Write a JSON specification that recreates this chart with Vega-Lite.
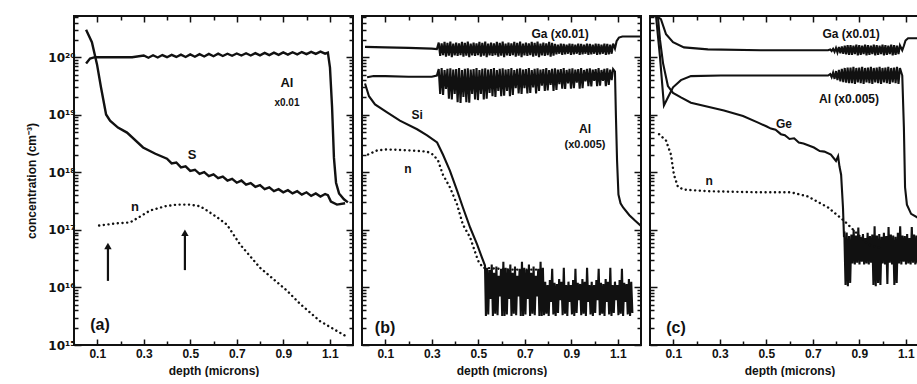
{
"$schema": "https://vega.github.io/schema/vega-lite/v6.json",
"background": "white",
"padding": {"left": 24, "top": 9, "right": 0, "bottom": 0},
"spacing": 5,
"config": {
  "view": {"stroke": "#111", "strokeWidth": 2},
  "axis": {"grid": false, "domain": false, "tickColor": "#111", "tickWidth": 1.5, "labelColor": "#111", "titleColor": "#111",
           "labelFont": "Liberation Sans", "titleFont": "Liberation Sans", "labelFontWeight": "bold", "titleFontWeight": "bold",
           "labelFontSize": 12, "titleFontSize": 12, "labelOverlap": false, "labelFlush": false},
  "text": {"font": "Liberation Sans", "fontWeight": "bold", "color": "#111"}
},
"datasets": {
  "curves": [
    {"p":"a","s":"Al","d":0.052,"v":7.8e19},{"p":"a","s":"Al","d":0.069,"v":9.5e19},{"p":"a","s":"Al","d":0.09,"v":1.0e20},{"p":"a","s":"Al","d":0.15,"v":1.0e20},{"p":"a","s":"Al","d":0.25,"v":1.0e20},
    {"p":"a","s":"Al","d":0.30,"v":1.07e20},{"p":"a","s":"Al","d":0.32,"v":9.8e19},{"p":"a","s":"Al","d":0.34,"v":1.08e20},{"p":"a","s":"Al","d":0.36,"v":9.9e19},{"p":"a","s":"Al","d":0.38,"v":1.09e20},{"p":"a","s":"Al","d":0.40,"v":1.0e20},{"p":"a","s":"Al","d":0.42,"v":1.10e20},{"p":"a","s":"Al","d":0.44,"v":1.01e20},{"p":"a","s":"Al","d":0.46,"v":1.11e20},{"p":"a","s":"Al","d":0.48,"v":1.01e20},
    {"p":"a","s":"Al","d":0.50,"v":1.12e20},{"p":"a","s":"Al","d":0.52,"v":1.02e20},{"p":"a","s":"Al","d":0.54,"v":1.13e20},{"p":"a","s":"Al","d":0.56,"v":1.03e20},{"p":"a","s":"Al","d":0.58,"v":1.14e20},{"p":"a","s":"Al","d":0.60,"v":1.04e20},{"p":"a","s":"Al","d":0.62,"v":1.15e20},{"p":"a","s":"Al","d":0.64,"v":1.05e20},{"p":"a","s":"Al","d":0.66,"v":1.15e20},{"p":"a","s":"Al","d":0.68,"v":1.06e20},
    {"p":"a","s":"Al","d":0.70,"v":1.16e20},{"p":"a","s":"Al","d":0.72,"v":1.07e20},{"p":"a","s":"Al","d":0.74,"v":1.17e20},{"p":"a","s":"Al","d":0.76,"v":1.07e20},{"p":"a","s":"Al","d":0.78,"v":1.18e20},{"p":"a","s":"Al","d":0.80,"v":1.08e20},{"p":"a","s":"Al","d":0.82,"v":1.19e20},{"p":"a","s":"Al","d":0.84,"v":1.09e20},{"p":"a","s":"Al","d":0.86,"v":1.20e20},{"p":"a","s":"Al","d":0.88,"v":1.10e20},
    {"p":"a","s":"Al","d":0.90,"v":1.21e20},{"p":"a","s":"Al","d":0.92,"v":1.11e20},{"p":"a","s":"Al","d":0.94,"v":1.22e20},{"p":"a","s":"Al","d":0.96,"v":1.12e20},{"p":"a","s":"Al","d":0.98,"v":1.23e20},{"p":"a","s":"Al","d":1.00,"v":1.13e20},{"p":"a","s":"Al","d":1.02,"v":1.24e20},{"p":"a","s":"Al","d":1.04,"v":1.14e20},{"p":"a","s":"Al","d":1.06,"v":1.25e20},{"p":"a","s":"Al","d":1.08,"v":1.15e20},
    {"p":"a","s":"Al","d":1.092,"v":1.2e20},{"p":"a","s":"Al","d":1.101,"v":6.6e19},{"p":"a","s":"Al","d":1.11,"v":1.35e19},{"p":"a","s":"Al","d":1.118,"v":1.8e18},{"p":"a","s":"Al","d":1.127,"v":6.6e17},{"p":"a","s":"Al","d":1.14,"v":4.3e17},{"p":"a","s":"Al","d":1.161,"v":3.4e17},{"p":"a","s":"Al","d":1.178,"v":3.0e17},

    {"p":"a","s":"S","d":0.052,"v":3.0e20},{"p":"a","s":"S","d":0.077,"v":1.82e20},{"p":"a","s":"S","d":0.099,"v":7.5e19},{"p":"a","s":"S","d":0.116,"v":3.0e19},{"p":"a","s":"S","d":0.138,"v":1.01e19},{"p":"a","s":"S","d":0.155,"v":7.9e18},{"p":"a","s":"S","d":0.189,"v":6.0e18},{"p":"a","s":"S","d":0.228,"v":4.9e18},{"p":"a","s":"S","d":0.297,"v":2.7e18},{"p":"a","s":"S","d":0.35,"v":2.1e18},
    {"p":"a","s":"S","d":0.40,"v":1.72e18},{"p":"a","s":"S","d":0.42,"v":1.43e18},{"p":"a","s":"S","d":0.44,"v":1.48e18},{"p":"a","s":"S","d":0.46,"v":1.22e18},{"p":"a","s":"S","d":0.48,"v":1.27e18},{"p":"a","s":"S","d":0.50,"v":1.06e18},{"p":"a","s":"S","d":0.52,"v":1.11e18},{"p":"a","s":"S","d":0.54,"v":9.4e17},{"p":"a","s":"S","d":0.56,"v":1.01e18},{"p":"a","s":"S","d":0.58,"v":8.6e17},
    {"p":"a","s":"S","d":0.60,"v":9.2e17},{"p":"a","s":"S","d":0.62,"v":7.9e17},{"p":"a","s":"S","d":0.64,"v":8.4e17},{"p":"a","s":"S","d":0.66,"v":7.2e17},{"p":"a","s":"S","d":0.68,"v":7.7e17},{"p":"a","s":"S","d":0.70,"v":6.6e17},{"p":"a","s":"S","d":0.72,"v":7.2e17},{"p":"a","s":"S","d":0.74,"v":6.1e17},{"p":"a","s":"S","d":0.76,"v":6.5e17},{"p":"a","s":"S","d":0.78,"v":5.6e17},
    {"p":"a","s":"S","d":0.80,"v":6.0e17},{"p":"a","s":"S","d":0.82,"v":5.1e17},{"p":"a","s":"S","d":0.84,"v":5.5e17},{"p":"a","s":"S","d":0.86,"v":4.7e17},{"p":"a","s":"S","d":0.88,"v":5.1e17},{"p":"a","s":"S","d":0.90,"v":4.5e17},{"p":"a","s":"S","d":0.92,"v":4.9e17},{"p":"a","s":"S","d":0.94,"v":4.3e17},{"p":"a","s":"S","d":0.96,"v":4.7e17},{"p":"a","s":"S","d":0.98,"v":4.1e17},
    {"p":"a","s":"S","d":1.00,"v":4.5e17},{"p":"a","s":"S","d":1.02,"v":3.9e17},{"p":"a","s":"S","d":1.04,"v":4.3e17},{"p":"a","s":"S","d":1.06,"v":3.8e17},{"p":"a","s":"S","d":1.08,"v":4.2e17},{"p":"a","s":"S","d":1.092,"v":4.0e17},{"p":"a","s":"S","d":1.105,"v":3.1e17},{"p":"a","s":"S","d":1.131,"v":2.75e17},{"p":"a","s":"S","d":1.166,"v":2.9e17},

    {"p":"a","s":"n","d":0.108,"v":1.19e17},{"p":"a","s":"n","d":0.176,"v":1.29e17},{"p":"a","s":"n","d":0.241,"v":1.35e17},{"p":"a","s":"n","d":0.284,"v":1.7e17},{"p":"a","s":"n","d":0.327,"v":2.17e17},{"p":"a","s":"n","d":0.391,"v":2.57e17},{"p":"a","s":"n","d":0.443,"v":2.75e17},{"p":"a","s":"n","d":0.499,"v":2.75e17},{"p":"a","s":"n","d":0.542,"v":2.57e17},
    {"p":"a","s":"n","d":0.572,"v":2.17e17},{"p":"a","s":"n","d":0.619,"v":1.62e17},{"p":"a","s":"n","d":0.658,"v":1.23e17},{"p":"a","s":"n","d":0.714,"v":5.6e16},{"p":"a","s":"n","d":0.80,"v":2.2e16},{"p":"a","s":"n","d":0.916,"v":8.8e15},{"p":"a","s":"n","d":0.972,"v":5.2e15},{"p":"a","s":"n","d":1.058,"v":2.6e15},{"p":"a","s":"n","d":1.166,"v":1.45e15},

    {"p":"b","s":"Ga","d":0.013,"v":1.51e20},{"p":"b","s":"Ga","d":0.10,"v":1.48e20},{"p":"b","s":"Ga","d":0.20,"v":1.45e20},{"p":"b","s":"Ga","d":0.30,"v":1.41e20},{"p":"b","s":"Ga","d":0.322,"v":1.38e20},
    {"p":"b","s":"Ga","d":0.33,"v":1.80e20},{"p":"b","s":"Ga","d":0.33625,"v":1.05e20},{"p":"b","s":"Ga","d":0.3425,"v":1.74e20},{"p":"b","s":"Ga","d":0.34875,"v":1.09e20},{"p":"b","s":"Ga","d":0.355,"v":1.84e20},{"p":"b","s":"Ga","d":0.36125,"v":1.02e20},{"p":"b","s":"Ga","d":0.3675,"v":1.77e20},{"p":"b","s":"Ga","d":0.37375,"v":1.07e20},{"p":"b","s":"Ga","d":0.38,"v":1.86e20},{"p":"b","s":"Ga","d":0.38625,"v":1.0e20},{"p":"b","s":"Ga","d":0.3925,"v":1.72e20},{"p":"b","s":"Ga","d":0.39875,"v":1.08e20},
    {"p":"b","s":"Ga","d":0.405,"v":1.80e20},{"p":"b","s":"Ga","d":0.41125,"v":1.05e20},{"p":"b","s":"Ga","d":0.4175,"v":1.74e20},{"p":"b","s":"Ga","d":0.42375,"v":1.09e20},{"p":"b","s":"Ga","d":0.43,"v":1.84e20},{"p":"b","s":"Ga","d":0.43625,"v":1.02e20},{"p":"b","s":"Ga","d":0.4425,"v":1.77e20},{"p":"b","s":"Ga","d":0.44875,"v":1.07e20},{"p":"b","s":"Ga","d":0.455,"v":1.86e20},{"p":"b","s":"Ga","d":0.46125,"v":1.0e20},{"p":"b","s":"Ga","d":0.4675,"v":1.72e20},{"p":"b","s":"Ga","d":0.47375,"v":1.08e20},
    {"p":"b","s":"Ga","d":0.48,"v":1.80e20},{"p":"b","s":"Ga","d":0.48625,"v":1.05e20},{"p":"b","s":"Ga","d":0.4925,"v":1.74e20},{"p":"b","s":"Ga","d":0.49875,"v":1.09e20},{"p":"b","s":"Ga","d":0.505,"v":1.84e20},{"p":"b","s":"Ga","d":0.51125,"v":1.02e20},{"p":"b","s":"Ga","d":0.5175,"v":1.77e20},{"p":"b","s":"Ga","d":0.52375,"v":1.07e20},{"p":"b","s":"Ga","d":0.53,"v":1.86e20},{"p":"b","s":"Ga","d":0.53625,"v":1.0e20},{"p":"b","s":"Ga","d":0.5425,"v":1.72e20},{"p":"b","s":"Ga","d":0.54875,"v":1.08e20},
    {"p":"b","s":"Ga","d":0.555,"v":1.80e20},{"p":"b","s":"Ga","d":0.56125,"v":1.05e20},{"p":"b","s":"Ga","d":0.5675,"v":1.74e20},{"p":"b","s":"Ga","d":0.57375,"v":1.09e20},{"p":"b","s":"Ga","d":0.58,"v":1.84e20},{"p":"b","s":"Ga","d":0.58625,"v":1.02e20},{"p":"b","s":"Ga","d":0.5925,"v":1.77e20},{"p":"b","s":"Ga","d":0.59875,"v":1.07e20},{"p":"b","s":"Ga","d":0.605,"v":1.86e20},{"p":"b","s":"Ga","d":0.61125,"v":1.0e20},{"p":"b","s":"Ga","d":0.6175,"v":1.72e20},{"p":"b","s":"Ga","d":0.62375,"v":1.08e20},
    {"p":"b","s":"Ga","d":0.63,"v":1.80e20},{"p":"b","s":"Ga","d":0.63625,"v":1.05e20},{"p":"b","s":"Ga","d":0.6425,"v":1.74e20},{"p":"b","s":"Ga","d":0.64875,"v":1.09e20},{"p":"b","s":"Ga","d":0.655,"v":1.84e20},{"p":"b","s":"Ga","d":0.66125,"v":1.02e20},{"p":"b","s":"Ga","d":0.6675,"v":1.77e20},{"p":"b","s":"Ga","d":0.67375,"v":1.07e20},{"p":"b","s":"Ga","d":0.68,"v":1.86e20},{"p":"b","s":"Ga","d":0.68625,"v":1.0e20},{"p":"b","s":"Ga","d":0.6925,"v":1.72e20},{"p":"b","s":"Ga","d":0.69875,"v":1.08e20},
    {"p":"b","s":"Ga","d":0.705,"v":1.80e20},{"p":"b","s":"Ga","d":0.71125,"v":1.05e20},{"p":"b","s":"Ga","d":0.7175,"v":1.74e20},{"p":"b","s":"Ga","d":0.72375,"v":1.09e20},{"p":"b","s":"Ga","d":0.73,"v":1.84e20},{"p":"b","s":"Ga","d":0.73625,"v":1.02e20},{"p":"b","s":"Ga","d":0.7425,"v":1.77e20},{"p":"b","s":"Ga","d":0.74875,"v":1.07e20},{"p":"b","s":"Ga","d":0.755,"v":1.86e20},{"p":"b","s":"Ga","d":0.76125,"v":1.0e20},{"p":"b","s":"Ga","d":0.7675,"v":1.72e20},{"p":"b","s":"Ga","d":0.77375,"v":1.08e20},
    {"p":"b","s":"Ga","d":0.78,"v":1.80e20},{"p":"b","s":"Ga","d":0.78625,"v":1.05e20},{"p":"b","s":"Ga","d":0.7925,"v":1.74e20},{"p":"b","s":"Ga","d":0.79875,"v":1.09e20},{"p":"b","s":"Ga","d":0.805,"v":1.84e20},{"p":"b","s":"Ga","d":0.81125,"v":1.02e20},{"p":"b","s":"Ga","d":0.8175,"v":1.77e20},{"p":"b","s":"Ga","d":0.82375,"v":1.07e20},
    {"p":"b","s":"Ga","d":0.83,"v":1.70e20},{"p":"b","s":"Ga","d":0.83625,"v":1.12e20},{"p":"b","s":"Ga","d":0.8425,"v":1.66e20},{"p":"b","s":"Ga","d":0.84875,"v":1.15e20},{"p":"b","s":"Ga","d":0.855,"v":1.72e20},{"p":"b","s":"Ga","d":0.86125,"v":1.10e20},{"p":"b","s":"Ga","d":0.8675,"v":1.70e20},{"p":"b","s":"Ga","d":0.87375,"v":1.12e20},{"p":"b","s":"Ga","d":0.88,"v":1.66e20},{"p":"b","s":"Ga","d":0.88625,"v":1.15e20},{"p":"b","s":"Ga","d":0.8925,"v":1.72e20},{"p":"b","s":"Ga","d":0.89875,"v":1.10e20},
    {"p":"b","s":"Ga","d":0.905,"v":1.70e20},{"p":"b","s":"Ga","d":0.91125,"v":1.12e20},{"p":"b","s":"Ga","d":0.9175,"v":1.66e20},{"p":"b","s":"Ga","d":0.92375,"v":1.15e20},{"p":"b","s":"Ga","d":0.93,"v":1.72e20},{"p":"b","s":"Ga","d":0.93625,"v":1.10e20},{"p":"b","s":"Ga","d":0.9425,"v":1.70e20},{"p":"b","s":"Ga","d":0.94875,"v":1.12e20},{"p":"b","s":"Ga","d":0.955,"v":1.66e20},{"p":"b","s":"Ga","d":0.96125,"v":1.15e20},{"p":"b","s":"Ga","d":0.9675,"v":1.72e20},{"p":"b","s":"Ga","d":0.97375,"v":1.10e20},
    {"p":"b","s":"Ga","d":0.98,"v":1.70e20},{"p":"b","s":"Ga","d":0.98625,"v":1.12e20},{"p":"b","s":"Ga","d":0.9925,"v":1.66e20},{"p":"b","s":"Ga","d":0.99875,"v":1.15e20},{"p":"b","s":"Ga","d":1.005,"v":1.72e20},{"p":"b","s":"Ga","d":1.01125,"v":1.10e20},{"p":"b","s":"Ga","d":1.0175,"v":1.70e20},{"p":"b","s":"Ga","d":1.02375,"v":1.12e20},{"p":"b","s":"Ga","d":1.03,"v":1.66e20},{"p":"b","s":"Ga","d":1.03625,"v":1.15e20},{"p":"b","s":"Ga","d":1.0425,"v":1.72e20},{"p":"b","s":"Ga","d":1.04875,"v":1.10e20},
    {"p":"b","s":"Ga","d":1.055,"v":1.70e20},{"p":"b","s":"Ga","d":1.06125,"v":1.12e20},{"p":"b","s":"Ga","d":1.0675,"v":1.66e20},{"p":"b","s":"Ga","d":1.07375,"v":1.15e20},{"p":"b","s":"Ga","d":1.08,"v":1.72e20},
    {"p":"b","s":"Ga","d":1.088,"v":1.41e20},{"p":"b","s":"Ga","d":1.095,"v":1.9e20},{"p":"b","s":"Ga","d":1.105,"v":2.19e20},{"p":"b","s":"Ga","d":1.12,"v":2.29e20},{"p":"b","s":"Ga","d":1.2,"v":2.29e20},

    {"p":"b","s":"Al","d":0.022,"v":4.47e19},{"p":"b","s":"Al","d":0.05,"v":4.7e19},{"p":"b","s":"Al","d":0.10,"v":4.7e19},{"p":"b","s":"Al","d":0.20,"v":4.57e19},{"p":"b","s":"Al","d":0.30,"v":4.57e19},{"p":"b","s":"Al","d":0.322,"v":4.8e19},
    {"p":"b","s":"Al","d":0.33,"v":6.2e19},{"p":"b","s":"Al","d":0.33625,"v":2.3e19},{"p":"b","s":"Al","d":0.3425,"v":6.5e19},{"p":"b","s":"Al","d":0.34875,"v":2.2e19},{"p":"b","s":"Al","d":0.355,"v":6.0e19},{"p":"b","s":"Al","d":0.36125,"v":2.8e19},{"p":"b","s":"Al","d":0.3675,"v":6.3e19},{"p":"b","s":"Al","d":0.37375,"v":1.9e19},{"p":"b","s":"Al","d":0.38,"v":6.4e19},{"p":"b","s":"Al","d":0.38625,"v":1.85e19},{"p":"b","s":"Al","d":0.3925,"v":6.1e19},{"p":"b","s":"Al","d":0.39875,"v":2.3e19},
    {"p":"b","s":"Al","d":0.405,"v":6.2e19},{"p":"b","s":"Al","d":0.41125,"v":1.65e19},{"p":"b","s":"Al","d":0.4175,"v":6.5e19},{"p":"b","s":"Al","d":0.42375,"v":1.6e19},{"p":"b","s":"Al","d":0.43,"v":6.0e19},{"p":"b","s":"Al","d":0.43625,"v":2.05e19},{"p":"b","s":"Al","d":0.4425,"v":6.3e19},{"p":"b","s":"Al","d":0.44875,"v":1.65e19},{"p":"b","s":"Al","d":0.455,"v":6.4e19},{"p":"b","s":"Al","d":0.46125,"v":1.62e19},{"p":"b","s":"Al","d":0.4675,"v":6.1e19},{"p":"b","s":"Al","d":0.47375,"v":2.3e19},
    {"p":"b","s":"Al","d":0.48,"v":6.2e19},{"p":"b","s":"Al","d":0.48625,"v":1.85e19},{"p":"b","s":"Al","d":0.4925,"v":6.5e19},{"p":"b","s":"Al","d":0.49875,"v":1.8e19},{"p":"b","s":"Al","d":0.505,"v":6.0e19},{"p":"b","s":"Al","d":0.51125,"v":2.3e19},{"p":"b","s":"Al","d":0.5175,"v":6.3e19},{"p":"b","s":"Al","d":0.52375,"v":1.85e19},{"p":"b","s":"Al","d":0.53,"v":6.4e19},{"p":"b","s":"Al","d":0.53625,"v":1.9e19},{"p":"b","s":"Al","d":0.5425,"v":6.1e19},{"p":"b","s":"Al","d":0.54875,"v":2.4e19},
    {"p":"b","s":"Al","d":0.555,"v":6.2e19},{"p":"b","s":"Al","d":0.56125,"v":2.1e19},{"p":"b","s":"Al","d":0.5675,"v":6.5e19},{"p":"b","s":"Al","d":0.57375,"v":2.05e19},{"p":"b","s":"Al","d":0.58,"v":6.0e19},{"p":"b","s":"Al","d":0.58625,"v":2.6e19},{"p":"b","s":"Al","d":0.5925,"v":6.3e19},{"p":"b","s":"Al","d":0.59875,"v":2.1e19},{"p":"b","s":"Al","d":0.605,"v":6.4e19},{"p":"b","s":"Al","d":0.61125,"v":2.15e19},{"p":"b","s":"Al","d":0.6175,"v":6.1e19},{"p":"b","s":"Al","d":0.62375,"v":2.6e19},
    {"p":"b","s":"Al","d":0.63,"v":6.2e19},{"p":"b","s":"Al","d":0.63625,"v":2.1e19},{"p":"b","s":"Al","d":0.6425,"v":6.5e19},{"p":"b","s":"Al","d":0.64875,"v":2.2e19},{"p":"b","s":"Al","d":0.655,"v":6.0e19},{"p":"b","s":"Al","d":0.66125,"v":2.9e19},{"p":"b","s":"Al","d":0.6675,"v":6.3e19},{"p":"b","s":"Al","d":0.67375,"v":2.35e19},{"p":"b","s":"Al","d":0.68,"v":6.4e19},{"p":"b","s":"Al","d":0.68625,"v":2.3e19},{"p":"b","s":"Al","d":0.6925,"v":6.1e19},{"p":"b","s":"Al","d":0.69875,"v":2.9e19},
    {"p":"b","s":"Al","d":0.705,"v":6.2e19},{"p":"b","s":"Al","d":0.71125,"v":2.35e19},{"p":"b","s":"Al","d":0.7175,"v":6.5e19},{"p":"b","s":"Al","d":0.72375,"v":2.4e19},{"p":"b","s":"Al","d":0.73,"v":6.0e19},{"p":"b","s":"Al","d":0.73625,"v":3.0e19},{"p":"b","s":"Al","d":0.7425,"v":6.3e19},{"p":"b","s":"Al","d":0.74875,"v":2.35e19},{"p":"b","s":"Al","d":0.755,"v":6.4e19},{"p":"b","s":"Al","d":0.76125,"v":2.6e19},{"p":"b","s":"Al","d":0.7675,"v":6.1e19},{"p":"b","s":"Al","d":0.77375,"v":3.2e19},
    {"p":"b","s":"Al","d":0.78,"v":6.2e19},{"p":"b","s":"Al","d":0.78625,"v":2.6e19},{"p":"b","s":"Al","d":0.7925,"v":6.5e19},{"p":"b","s":"Al","d":0.79875,"v":2.65e19},{"p":"b","s":"Al","d":0.805,"v":6.0e19},{"p":"b","s":"Al","d":0.81125,"v":3.3e19},{"p":"b","s":"Al","d":0.8175,"v":6.3e19},{"p":"b","s":"Al","d":0.82375,"v":2.6e19},{"p":"b","s":"Al","d":0.83,"v":6.4e19},{"p":"b","s":"Al","d":0.83625,"v":2.7e19},{"p":"b","s":"Al","d":0.8425,"v":6.1e19},{"p":"b","s":"Al","d":0.84875,"v":3.4e19},
    {"p":"b","s":"Al","d":0.855,"v":6.2e19},{"p":"b","s":"Al","d":0.86125,"v":2.85e19},{"p":"b","s":"Al","d":0.8675,"v":6.5e19},{"p":"b","s":"Al","d":0.87375,"v":2.8e19},{"p":"b","s":"Al","d":0.88,"v":6.0e19},{"p":"b","s":"Al","d":0.88625,"v":3.5e19},{"p":"b","s":"Al","d":0.8925,"v":6.3e19},{"p":"b","s":"Al","d":0.89875,"v":2.85e19},{"p":"b","s":"Al","d":0.905,"v":6.4e19},{"p":"b","s":"Al","d":0.91125,"v":2.9e19},{"p":"b","s":"Al","d":0.9175,"v":6.1e19},{"p":"b","s":"Al","d":0.92375,"v":3.6e19},
    {"p":"b","s":"Al","d":0.93,"v":6.2e19},{"p":"b","s":"Al","d":0.93625,"v":2.85e19},{"p":"b","s":"Al","d":0.9425,"v":6.5e19},{"p":"b","s":"Al","d":0.94875,"v":2.9e19},{"p":"b","s":"Al","d":0.955,"v":6.0e19},{"p":"b","s":"Al","d":0.96125,"v":3.8e19},{"p":"b","s":"Al","d":0.9675,"v":6.3e19},{"p":"b","s":"Al","d":0.97375,"v":3.15e19},{"p":"b","s":"Al","d":0.98,"v":6.4e19},{"p":"b","s":"Al","d":0.98625,"v":3.1e19},{"p":"b","s":"Al","d":0.9925,"v":6.1e19},{"p":"b","s":"Al","d":0.99875,"v":3.9e19},
    {"p":"b","s":"Al","d":1.005,"v":6.2e19},{"p":"b","s":"Al","d":1.01125,"v":3.15e19},{"p":"b","s":"Al","d":1.0175,"v":6.5e19},{"p":"b","s":"Al","d":1.02375,"v":3.2e19},{"p":"b","s":"Al","d":1.03,"v":6.0e19},{"p":"b","s":"Al","d":1.03625,"v":3.9e19},{"p":"b","s":"Al","d":1.0425,"v":6.3e19},{"p":"b","s":"Al","d":1.04875,"v":3.15e19},{"p":"b","s":"Al","d":1.055,"v":6.4e19},{"p":"b","s":"Al","d":1.06125,"v":3.3e19},{"p":"b","s":"Al","d":1.0675,"v":6.1e19},{"p":"b","s":"Al","d":1.07375,"v":4.0e19},{"p":"b","s":"Al","d":1.08,"v":6.2e19},
    {"p":"b","s":"Al","d":1.088,"v":5.6e19},{"p":"b","s":"Al","d":1.092,"v":1.0e19},{"p":"b","s":"Al","d":1.097,"v":1.6e18},{"p":"b","s":"Al","d":1.103,"v":4.1e17},{"p":"b","s":"Al","d":1.112,"v":2.9e17},{"p":"b","s":"Al","d":1.123,"v":2.45e17},{"p":"b","s":"Al","d":1.15,"v":1.8e17},{"p":"b","s":"Al","d":1.174,"v":1.45e17},{"p":"b","s":"Al","d":1.2,"v":1.17e17},

    {"p":"b","s":"Si","d":0.013,"v":3.5e19},{"p":"b","s":"Si","d":0.03,"v":2.1e19},{"p":"b","s":"Si","d":0.056,"v":1.51e19},{"p":"b","s":"Si","d":0.108,"v":1.1e19},{"p":"b","s":"Si","d":0.163,"v":7.9e18},{"p":"b","s":"Si","d":0.237,"v":5.6e18},{"p":"b","s":"Si","d":0.28,"v":4.4e18},{"p":"b","s":"Si","d":0.323,"v":3.3e18},{"p":"b","s":"Si","d":0.348,"v":2.04e18},
    {"p":"b","s":"Si","d":0.378,"v":1.07e18},{"p":"b","s":"Si","d":0.409,"v":4.8e17},{"p":"b","s":"Si","d":0.434,"v":2.45e17},{"p":"b","s":"Si","d":0.465,"v":1.1e17},{"p":"b","s":"Si","d":0.495,"v":5.6e16},{"p":"b","s":"Si","d":0.516,"v":3.3e16},{"p":"b","s":"Si","d":0.529,"v":2.4e16},
    {"p":"b","s":"Si","d":0.533,"v":3.2e15},{"p":"b","s":"Si","d":0.538,"v":2.2e16},{"p":"b","s":"Si","d":0.543,"v":3.4e15},{"p":"b","s":"Si","d":0.548,"v":2.0e16},{"p":"b","s":"Si","d":0.553,"v":6.3e15},{"p":"b","s":"Si","d":0.558,"v":2.5e16},{"p":"b","s":"Si","d":0.563,"v":3.2e15},{"p":"b","s":"Si","d":0.568,"v":1.8e16},{"p":"b","s":"Si","d":0.573,"v":3.5e15},{"p":"b","s":"Si","d":0.578,"v":2.3e16},
    {"p":"b","s":"Si","d":0.583,"v":3.3e15},{"p":"b","s":"Si","d":0.588,"v":1.6e16},{"p":"b","s":"Si","d":0.593,"v":7.0e15},{"p":"b","s":"Si","d":0.598,"v":2.1e16},{"p":"b","s":"Si","d":0.603,"v":3.2e15},{"p":"b","s":"Si","d":0.608,"v":2.8e16},{"p":"b","s":"Si","d":0.613,"v":3.2e15},{"p":"b","s":"Si","d":0.618,"v":2.2e16},{"p":"b","s":"Si","d":0.623,"v":3.4e15},{"p":"b","s":"Si","d":0.628,"v":2.0e16},
    {"p":"b","s":"Si","d":0.633,"v":6.3e15},{"p":"b","s":"Si","d":0.638,"v":2.5e16},{"p":"b","s":"Si","d":0.643,"v":3.2e15},{"p":"b","s":"Si","d":0.648,"v":1.8e16},{"p":"b","s":"Si","d":0.653,"v":3.5e15},{"p":"b","s":"Si","d":0.658,"v":2.3e16},{"p":"b","s":"Si","d":0.663,"v":3.3e15},{"p":"b","s":"Si","d":0.668,"v":1.6e16},{"p":"b","s":"Si","d":0.673,"v":7.0e15},{"p":"b","s":"Si","d":0.678,"v":2.1e16},
    {"p":"b","s":"Si","d":0.683,"v":3.2e15},{"p":"b","s":"Si","d":0.688,"v":2.8e16},{"p":"b","s":"Si","d":0.693,"v":3.2e15},{"p":"b","s":"Si","d":0.698,"v":2.2e16},{"p":"b","s":"Si","d":0.703,"v":3.4e15},{"p":"b","s":"Si","d":0.708,"v":2.0e16},{"p":"b","s":"Si","d":0.713,"v":6.3e15},{"p":"b","s":"Si","d":0.718,"v":2.5e16},{"p":"b","s":"Si","d":0.723,"v":3.2e15},{"p":"b","s":"Si","d":0.728,"v":1.8e16},
    {"p":"b","s":"Si","d":0.733,"v":3.5e15},{"p":"b","s":"Si","d":0.738,"v":2.3e16},{"p":"b","s":"Si","d":0.743,"v":3.3e15},{"p":"b","s":"Si","d":0.748,"v":1.6e16},{"p":"b","s":"Si","d":0.753,"v":7.0e15},{"p":"b","s":"Si","d":0.758,"v":2.1e16},{"p":"b","s":"Si","d":0.763,"v":3.2e15},{"p":"b","s":"Si","d":0.768,"v":2.8e16},{"p":"b","s":"Si","d":0.773,"v":3.2e15},{"p":"b","s":"Si","d":0.778,"v":2.2e16},
    {"p":"b","s":"Si","d":0.783,"v":3.3e15},{"p":"b","s":"Si","d":0.788,"v":1.26e16},{"p":"b","s":"Si","d":0.793,"v":3.5e15},{"p":"b","s":"Si","d":0.798,"v":1.1e16},{"p":"b","s":"Si","d":0.803,"v":3.2e15},{"p":"b","s":"Si","d":0.808,"v":1.35e16},{"p":"b","s":"Si","d":0.813,"v":5.6e15},{"p":"b","s":"Si","d":0.818,"v":2.1e16},{"p":"b","s":"Si","d":0.823,"v":3.4e15},{"p":"b","s":"Si","d":0.828,"v":1.2e16},
    {"p":"b","s":"Si","d":0.833,"v":3.2e15},{"p":"b","s":"Si","d":0.838,"v":1.15e16},{"p":"b","s":"Si","d":0.843,"v":3.6e15},{"p":"b","s":"Si","d":0.848,"v":1.4e16},{"p":"b","s":"Si","d":0.853,"v":6.0e15},{"p":"b","s":"Si","d":0.858,"v":1.25e16},{"p":"b","s":"Si","d":0.863,"v":3.3e15},{"p":"b","s":"Si","d":0.868,"v":2.2e16},{"p":"b","s":"Si","d":0.873,"v":3.5e15},{"p":"b","s":"Si","d":0.878,"v":1.1e16},
    {"p":"b","s":"Si","d":0.883,"v":3.2e15},{"p":"b","s":"Si","d":0.888,"v":1.26e16},{"p":"b","s":"Si","d":0.893,"v":5.6e15},{"p":"b","s":"Si","d":0.898,"v":1.1e16},{"p":"b","s":"Si","d":0.903,"v":3.4e15},{"p":"b","s":"Si","d":0.908,"v":1.35e16},{"p":"b","s":"Si","d":0.913,"v":3.2e15},{"p":"b","s":"Si","d":0.918,"v":2.1e16},{"p":"b","s":"Si","d":0.923,"v":3.6e15},{"p":"b","s":"Si","d":0.928,"v":1.2e16},
    {"p":"b","s":"Si","d":0.933,"v":6.0e15},{"p":"b","s":"Si","d":0.938,"v":1.15e16},{"p":"b","s":"Si","d":0.943,"v":3.3e15},{"p":"b","s":"Si","d":0.948,"v":1.4e16},{"p":"b","s":"Si","d":0.953,"v":3.5e15},{"p":"b","s":"Si","d":0.958,"v":1.25e16},{"p":"b","s":"Si","d":0.963,"v":3.2e15},{"p":"b","s":"Si","d":0.968,"v":2.2e16},{"p":"b","s":"Si","d":0.973,"v":5.6e15},{"p":"b","s":"Si","d":0.978,"v":1.1e16},
    {"p":"b","s":"Si","d":0.983,"v":3.4e15},{"p":"b","s":"Si","d":0.988,"v":1.26e16},{"p":"b","s":"Si","d":0.993,"v":3.2e15},{"p":"b","s":"Si","d":0.998,"v":1.1e16},{"p":"b","s":"Si","d":1.003,"v":3.6e15},{"p":"b","s":"Si","d":1.008,"v":1.35e16},{"p":"b","s":"Si","d":1.013,"v":6.0e15},{"p":"b","s":"Si","d":1.018,"v":2.1e16},{"p":"b","s":"Si","d":1.023,"v":3.3e15},{"p":"b","s":"Si","d":1.028,"v":1.2e16},
    {"p":"b","s":"Si","d":1.033,"v":3.5e15},{"p":"b","s":"Si","d":1.038,"v":1.15e16},{"p":"b","s":"Si","d":1.043,"v":3.2e15},{"p":"b","s":"Si","d":1.048,"v":1.4e16},{"p":"b","s":"Si","d":1.053,"v":5.6e15},{"p":"b","s":"Si","d":1.058,"v":1.25e16},{"p":"b","s":"Si","d":1.063,"v":3.4e15},{"p":"b","s":"Si","d":1.068,"v":2.2e16},{"p":"b","s":"Si","d":1.073,"v":3.2e15},{"p":"b","s":"Si","d":1.078,"v":1.1e16},
    {"p":"b","s":"Si","d":1.083,"v":3.6e15},{"p":"b","s":"Si","d":1.088,"v":1.26e16},{"p":"b","s":"Si","d":1.093,"v":6.0e15},{"p":"b","s":"Si","d":1.098,"v":1.1e16},{"p":"b","s":"Si","d":1.103,"v":3.3e15},{"p":"b","s":"Si","d":1.108,"v":1.35e16},{"p":"b","s":"Si","d":1.113,"v":3.5e15},{"p":"b","s":"Si","d":1.118,"v":2.1e16},{"p":"b","s":"Si","d":1.123,"v":3.2e15},{"p":"b","s":"Si","d":1.128,"v":1.2e16},
    {"p":"b","s":"Si","d":1.133,"v":5.6e15},{"p":"b","s":"Si","d":1.138,"v":1.15e16},{"p":"b","s":"Si","d":1.143,"v":3.4e15},{"p":"b","s":"Si","d":1.148,"v":1.4e16},{"p":"b","s":"Si","d":1.153,"v":3.2e15},{"p":"b","s":"Si","d":1.158,"v":1.25e16},{"p":"b","s":"Si","d":1.163,"v":3.6e15},

    {"p":"b","s":"n","d":0.026,"v":2.04e18},{"p":"b","s":"n","d":0.065,"v":2.4e18},{"p":"b","s":"n","d":0.108,"v":2.5e18},{"p":"b","s":"n","d":0.206,"v":2.4e18},{"p":"b","s":"n","d":0.28,"v":2.29e18},{"p":"b","s":"n","d":0.305,"v":2.04e18},{"p":"b","s":"n","d":0.327,"v":1.61e18},{"p":"b","s":"n","d":0.348,"v":9.1e17},
    {"p":"b","s":"n","d":0.378,"v":5.5e17},{"p":"b","s":"n","d":0.409,"v":2.75e17},{"p":"b","s":"n","d":0.434,"v":1.23e17},{"p":"b","s":"n","d":0.465,"v":7.4e16},{"p":"b","s":"n","d":0.499,"v":2.93e16},{"p":"b","s":"n","d":0.52,"v":2.2e16},{"p":"b","s":"n","d":0.64,"v":2.04e16},{"p":"b","s":"n","d":0.77,"v":2.04e16},

    {"p":"c","s":"Ga","d":0.030,"v":5.1e20},{"p":"c","s":"Ga","d":0.047,"v":4.6e20},{"p":"c","s":"Ga","d":0.069,"v":2.5e20},{"p":"c","s":"Ga","d":0.099,"v":1.82e20},{"p":"c","s":"Ga","d":0.146,"v":1.48e20},{"p":"c","s":"Ga","d":0.249,"v":1.37e20},{"p":"c","s":"Ga","d":0.477,"v":1.32e20},{"p":"c","s":"Ga","d":0.766,"v":1.32e20},
    {"p":"c","s":"Ga","d":0.775,"v":1.36e20},{"p":"c","s":"Ga","d":0.78125,"v":1.28e20},{"p":"c","s":"Ga","d":0.7875,"v":1.40e20},{"p":"c","s":"Ga","d":0.79375,"v":1.24e20},{"p":"c","s":"Ga","d":0.80,"v":1.45e20},{"p":"c","s":"Ga","d":0.80625,"v":1.21e20},{"p":"c","s":"Ga","d":0.8125,"v":1.50e20},{"p":"c","s":"Ga","d":0.81875,"v":1.17e20},{"p":"c","s":"Ga","d":0.825,"v":1.54e20},{"p":"c","s":"Ga","d":0.83125,"v":1.15e20},{"p":"c","s":"Ga","d":0.8375,"v":1.58e20},{"p":"c","s":"Ga","d":0.84375,"v":1.12e20},{"p":"c","s":"Ga","d":0.85,"v":1.62e20},{"p":"c","s":"Ga","d":0.85625,"v":1.1e20},
    {"p":"c","s":"Ga","d":0.8625,"v":1.62e20},{"p":"c","s":"Ga","d":0.86875,"v":1.1e20},{"p":"c","s":"Ga","d":0.875,"v":1.58e20},{"p":"c","s":"Ga","d":0.88125,"v":1.13e20},{"p":"c","s":"Ga","d":0.8875,"v":1.65e20},{"p":"c","s":"Ga","d":0.89375,"v":1.08e20},{"p":"c","s":"Ga","d":0.90,"v":1.62e20},{"p":"c","s":"Ga","d":0.90625,"v":1.1e20},{"p":"c","s":"Ga","d":0.9125,"v":1.58e20},{"p":"c","s":"Ga","d":0.91875,"v":1.13e20},{"p":"c","s":"Ga","d":0.925,"v":1.65e20},{"p":"c","s":"Ga","d":0.93125,"v":1.08e20},
    {"p":"c","s":"Ga","d":0.9375,"v":1.62e20},{"p":"c","s":"Ga","d":0.94375,"v":1.1e20},{"p":"c","s":"Ga","d":0.95,"v":1.58e20},{"p":"c","s":"Ga","d":0.95625,"v":1.13e20},{"p":"c","s":"Ga","d":0.9625,"v":1.65e20},{"p":"c","s":"Ga","d":0.96875,"v":1.08e20},{"p":"c","s":"Ga","d":0.975,"v":1.62e20},{"p":"c","s":"Ga","d":0.98125,"v":1.1e20},{"p":"c","s":"Ga","d":0.9875,"v":1.58e20},{"p":"c","s":"Ga","d":0.99375,"v":1.13e20},{"p":"c","s":"Ga","d":1.0,"v":1.65e20},{"p":"c","s":"Ga","d":1.00625,"v":1.08e20},
    {"p":"c","s":"Ga","d":1.0125,"v":1.62e20},{"p":"c","s":"Ga","d":1.01875,"v":1.1e20},{"p":"c","s":"Ga","d":1.025,"v":1.58e20},{"p":"c","s":"Ga","d":1.03125,"v":1.13e20},{"p":"c","s":"Ga","d":1.0375,"v":1.65e20},{"p":"c","s":"Ga","d":1.04375,"v":1.08e20},{"p":"c","s":"Ga","d":1.05,"v":1.62e20},{"p":"c","s":"Ga","d":1.05625,"v":1.1e20},{"p":"c","s":"Ga","d":1.0625,"v":1.58e20},{"p":"c","s":"Ga","d":1.06875,"v":1.13e20},{"p":"c","s":"Ga","d":1.075,"v":1.6e20},
    {"p":"c","s":"Ga","d":1.085,"v":1.32e20},{"p":"c","s":"Ga","d":1.092,"v":1.58e20},{"p":"c","s":"Ga","d":1.099,"v":1.95e20},{"p":"c","s":"Ga","d":1.11,"v":2.14e20},{"p":"c","s":"Ga","d":1.2,"v":2.14e20},

    {"p":"c","s":"Al","d":0.026,"v":5.1e20},{"p":"c","s":"Al","d":0.043,"v":1.0e20},{"p":"c","s":"Al","d":0.060,"v":1.45e19},{"p":"c","s":"Al","d":0.077,"v":2.0e19},{"p":"c","s":"Al","d":0.099,"v":3.0e19},{"p":"c","s":"Al","d":0.133,"v":4.0e19},{"p":"c","s":"Al","d":0.176,"v":4.7e19},{"p":"c","s":"Al","d":0.305,"v":4.8e19},{"p":"c","s":"Al","d":0.766,"v":4.8e19},
    {"p":"c","s":"Al","d":0.775,"v":5.1e19},{"p":"c","s":"Al","d":0.78125,"v":4.5e19},{"p":"c","s":"Al","d":0.7875,"v":5.4e19},{"p":"c","s":"Al","d":0.79375,"v":4.2e19},{"p":"c","s":"Al","d":0.80,"v":5.75e19},{"p":"c","s":"Al","d":0.80625,"v":4.0e19},{"p":"c","s":"Al","d":0.8125,"v":6.0e19},{"p":"c","s":"Al","d":0.81875,"v":3.8e19},{"p":"c","s":"Al","d":0.825,"v":6.3e19},{"p":"c","s":"Al","d":0.83125,"v":3.7e19},{"p":"c","s":"Al","d":0.8375,"v":6.5e19},{"p":"c","s":"Al","d":0.84375,"v":3.6e19},{"p":"c","s":"Al","d":0.85,"v":6.6e19},{"p":"c","s":"Al","d":0.85625,"v":3.55e19},
    {"p":"c","s":"Al","d":0.8625,"v":6.6e19},{"p":"c","s":"Al","d":0.86875,"v":3.55e19},{"p":"c","s":"Al","d":0.875,"v":6.8e19},{"p":"c","s":"Al","d":0.88125,"v":3.45e19},{"p":"c","s":"Al","d":0.8875,"v":6.5e19},{"p":"c","s":"Al","d":0.89375,"v":3.65e19},{"p":"c","s":"Al","d":0.90,"v":6.6e19},{"p":"c","s":"Al","d":0.90625,"v":3.55e19},{"p":"c","s":"Al","d":0.9125,"v":6.8e19},{"p":"c","s":"Al","d":0.91875,"v":3.45e19},{"p":"c","s":"Al","d":0.925,"v":6.5e19},{"p":"c","s":"Al","d":0.93125,"v":3.65e19},
    {"p":"c","s":"Al","d":0.9375,"v":6.6e19},{"p":"c","s":"Al","d":0.94375,"v":3.55e19},{"p":"c","s":"Al","d":0.95,"v":6.8e19},{"p":"c","s":"Al","d":0.95625,"v":3.45e19},{"p":"c","s":"Al","d":0.9625,"v":6.5e19},{"p":"c","s":"Al","d":0.96875,"v":3.65e19},{"p":"c","s":"Al","d":0.975,"v":6.6e19},{"p":"c","s":"Al","d":0.98125,"v":3.55e19},{"p":"c","s":"Al","d":0.9875,"v":6.8e19},{"p":"c","s":"Al","d":0.99375,"v":3.45e19},{"p":"c","s":"Al","d":1.0,"v":6.5e19},{"p":"c","s":"Al","d":1.00625,"v":3.65e19},
    {"p":"c","s":"Al","d":1.0125,"v":6.6e19},{"p":"c","s":"Al","d":1.01875,"v":3.55e19},{"p":"c","s":"Al","d":1.025,"v":6.8e19},{"p":"c","s":"Al","d":1.03125,"v":3.45e19},{"p":"c","s":"Al","d":1.0375,"v":6.5e19},{"p":"c","s":"Al","d":1.04375,"v":3.65e19},{"p":"c","s":"Al","d":1.05,"v":6.6e19},{"p":"c","s":"Al","d":1.05625,"v":3.55e19},{"p":"c","s":"Al","d":1.0625,"v":6.8e19},{"p":"c","s":"Al","d":1.06875,"v":3.45e19},{"p":"c","s":"Al","d":1.075,"v":6.5e19},
    {"p":"c","s":"Al","d":1.085,"v":4.8e19},{"p":"c","s":"Al","d":1.092,"v":6.0e18},{"p":"c","s":"Al","d":1.097,"v":5.5e17},{"p":"c","s":"Al","d":1.105,"v":2.75e17},{"p":"c","s":"Al","d":1.123,"v":1.9e17},{"p":"c","s":"Al","d":1.153,"v":1.62e17},{"p":"c","s":"Al","d":1.2,"v":1.45e17},

    {"p":"c","s":"Ge","d":0.034,"v":5.1e20},{"p":"c","s":"Ge","d":0.043,"v":2.0e20},{"p":"c","s":"Ge","d":0.056,"v":7.9e19},{"p":"c","s":"Ge","d":0.077,"v":3.16e19},{"p":"c","s":"Ge","d":0.099,"v":2.4e19},{"p":"c","s":"Ge","d":0.133,"v":2.0e19},{"p":"c","s":"Ge","d":0.176,"v":1.62e19},{"p":"c","s":"Ge","d":0.318,"v":1.19e19},{"p":"c","s":"Ge","d":0.40,"v":9.5e18},{"p":"c","s":"Ge","d":0.465,"v":7.3e18},
    {"p":"c","s":"Ge","d":0.50,"v":6.3e18},{"p":"c","s":"Ge","d":0.52,"v":5.75e18},{"p":"c","s":"Ge","d":0.54,"v":5.5e18},{"p":"c","s":"Ge","d":0.563,"v":4.6e18},{"p":"c","s":"Ge","d":0.58,"v":4.4e18},{"p":"c","s":"Ge","d":0.60,"v":3.8e18},{"p":"c","s":"Ge","d":0.62,"v":3.9e18},{"p":"c","s":"Ge","d":0.64,"v":3.3e18},{"p":"c","s":"Ge","d":0.66,"v":3.16e18},{"p":"c","s":"Ge","d":0.68,"v":2.95e18},
    {"p":"c","s":"Ge","d":0.705,"v":2.7e18},{"p":"c","s":"Ge","d":0.73,"v":2.34e18},{"p":"c","s":"Ge","d":0.75,"v":2.29e18},{"p":"c","s":"Ge","d":0.778,"v":2.04e18},{"p":"c","s":"Ge","d":0.80,"v":1.58e18},{"p":"c","s":"Ge","d":0.809,"v":1.9e18},{"p":"c","s":"Ge","d":0.815,"v":1.26e18},{"p":"c","s":"Ge","d":0.822,"v":9.1e17},{"p":"c","s":"Ge","d":0.83,"v":2.45e17},{"p":"c","s":"Ge","d":0.834,"v":8.3e16},
    {"p":"c","s":"Ge","d":0.836,"v":8.5e16},{"p":"c","s":"Ge","d":0.841,"v":1.1e16},{"p":"c","s":"Ge","d":0.846,"v":9.0e16},{"p":"c","s":"Ge","d":0.851,"v":1.05e16},{"p":"c","s":"Ge","d":0.856,"v":7.8e16},{"p":"c","s":"Ge","d":0.861,"v":1.2e16},{"p":"c","s":"Ge","d":0.866,"v":8.3e16},{"p":"c","s":"Ge","d":0.871,"v":2.6e16},{"p":"c","s":"Ge","d":0.876,"v":1.0e17},{"p":"c","s":"Ge","d":0.881,"v":2.5e16},
    {"p":"c","s":"Ge","d":0.886,"v":8.0e16},{"p":"c","s":"Ge","d":0.891,"v":2.7e16},{"p":"c","s":"Ge","d":0.896,"v":1.1e17},{"p":"c","s":"Ge","d":0.901,"v":2.5e16},{"p":"c","s":"Ge","d":0.906,"v":7.6e16},{"p":"c","s":"Ge","d":0.911,"v":2.8e16},{"p":"c","s":"Ge","d":0.916,"v":8.5e16},{"p":"c","s":"Ge","d":0.921,"v":2.5e16},{"p":"c","s":"Ge","d":0.926,"v":7.2e16},{"p":"c","s":"Ge","d":0.931,"v":2.6e16},
    {"p":"c","s":"Ge","d":0.936,"v":8.9e16},{"p":"c","s":"Ge","d":0.941,"v":2.5e16},{"p":"c","s":"Ge","d":0.946,"v":7.8e16},{"p":"c","s":"Ge","d":0.951,"v":2.7e16},{"p":"c","s":"Ge","d":0.956,"v":8.3e16},{"p":"c","s":"Ge","d":0.961,"v":1.1e16},{"p":"c","s":"Ge","d":0.966,"v":1.15e17},{"p":"c","s":"Ge","d":0.971,"v":1.05e16},{"p":"c","s":"Ge","d":0.976,"v":8.0e16},{"p":"c","s":"Ge","d":0.981,"v":1.2e16},
    {"p":"c","s":"Ge","d":0.986,"v":8.5e16},{"p":"c","s":"Ge","d":0.991,"v":1.1e16},{"p":"c","s":"Ge","d":0.996,"v":7.6e16},{"p":"c","s":"Ge","d":1.001,"v":2.6e16},{"p":"c","s":"Ge","d":1.006,"v":8.9e16},{"p":"c","s":"Ge","d":1.011,"v":2.5e16},{"p":"c","s":"Ge","d":1.016,"v":7.8e16},{"p":"c","s":"Ge","d":1.021,"v":1.15e16},{"p":"c","s":"Ge","d":1.026,"v":1.12e17},{"p":"c","s":"Ge","d":1.031,"v":2.7e16},
    {"p":"c","s":"Ge","d":1.036,"v":8.3e16},{"p":"c","s":"Ge","d":1.041,"v":2.5e16},{"p":"c","s":"Ge","d":1.046,"v":8.0e16},{"p":"c","s":"Ge","d":1.051,"v":1.1e16},{"p":"c","s":"Ge","d":1.056,"v":7.6e16},{"p":"c","s":"Ge","d":1.061,"v":1.2e16},{"p":"c","s":"Ge","d":1.066,"v":8.9e16},{"p":"c","s":"Ge","d":1.071,"v":2.6e16},{"p":"c","s":"Ge","d":1.076,"v":1.15e17},{"p":"c","s":"Ge","d":1.081,"v":2.5e16},
    {"p":"c","s":"Ge","d":1.086,"v":8.0e16},{"p":"c","s":"Ge","d":1.091,"v":2.8e16},{"p":"c","s":"Ge","d":1.096,"v":7.8e16},{"p":"c","s":"Ge","d":1.101,"v":2.5e16},{"p":"c","s":"Ge","d":1.106,"v":8.5e16},{"p":"c","s":"Ge","d":1.111,"v":2.6e16},{"p":"c","s":"Ge","d":1.116,"v":7.2e16},{"p":"c","s":"Ge","d":1.121,"v":2.5e16},{"p":"c","s":"Ge","d":1.126,"v":1.12e17},{"p":"c","s":"Ge","d":1.131,"v":2.7e16},
    {"p":"c","s":"Ge","d":1.136,"v":8.3e16},{"p":"c","s":"Ge","d":1.141,"v":2.5e16},{"p":"c","s":"Ge","d":1.146,"v":8.0e16},{"p":"c","s":"Ge","d":1.151,"v":2.6e16},{"p":"c","s":"Ge","d":1.156,"v":8.9e16},{"p":"c","s":"Ge","d":1.161,"v":2.5e16},{"p":"c","s":"Ge","d":1.166,"v":7.8e16},{"p":"c","s":"Ge","d":1.171,"v":2.7e16},{"p":"c","s":"Ge","d":1.176,"v":1.05e17},{"p":"c","s":"Ge","d":1.181,"v":2.5e16},
    {"p":"c","s":"Ge","d":1.186,"v":8.5e16},{"p":"c","s":"Ge","d":1.191,"v":2.6e16},{"p":"c","s":"Ge","d":1.196,"v":8.0e16},

    {"p":"c","s":"n","d":0.039,"v":4.6e18},{"p":"c","s":"n","d":0.069,"v":3.55e18},{"p":"c","s":"n","d":0.09,"v":2.04e18},{"p":"c","s":"n","d":0.103,"v":9.1e17},{"p":"c","s":"n","d":0.12,"v":5.6e17},{"p":"c","s":"n","d":0.146,"v":5.0e17},{"p":"c","s":"n","d":0.249,"v":4.7e17},{"p":"c","s":"n","d":0.465,"v":4.5e17},
    {"p":"c","s":"n","d":0.606,"v":4.5e17},{"p":"c","s":"n","d":0.68,"v":3.8e17},{"p":"c","s":"n","d":0.766,"v":2.45e17},{"p":"c","s":"n","d":0.834,"v":1.45e17},{"p":"c","s":"n","d":0.877,"v":9.8e16},{"p":"c","s":"n","d":0.937,"v":5.6e16},{"p":"c","s":"n","d":0.994,"v":4.8e16}
  ],
  "labels": [
    {"p":"a","k":"curve","t":"Al","d":0.916,"v":3.6e19},{"p":"a","k":"small","t":"x0.01","d":0.916,"v":1.62e19},{"p":"a","k":"curve","t":"S","d":0.508,"v":2.0e18},{"p":"a","k":"curve","t":"n","d":0.262,"v":2.45e17},{"p":"a","k":"tag","t":"(a)","d":0.112,"v":2.2e15},
    {"p":"b","k":"curve","t":"Ga (x0.01)","d":0.852,"v":2.5e20},{"p":"b","k":"curve","t":"Si","d":0.237,"v":9.8e18},{"p":"b","k":"curve","t":"Al","d":0.959,"v":5.6e18},{"p":"b","k":"small","t":"(x0.005)","d":0.959,"v":3.0e18},{"p":"b","k":"curve","t":"n","d":0.198,"v":1.12e18},{"p":"b","k":"tag","t":"(b)","d":0.099,"v":2.0e15},
    {"p":"c","k":"curve","t":"Ga (x0.01)","d":0.865,"v":2.5e20},{"p":"c","k":"curve","t":"Al (x0.005)","d":0.856,"v":1.86e19},{"p":"c","k":"curve","t":"Ge","d":0.576,"v":6.8e18},{"p":"c","k":"curve","t":"n","d":0.254,"v":7.2e17},{"p":"c","k":"tag","t":"(c)","d":0.112,"v":2.0e15}
  ],
  "arrows": [
    {"p":"a","d":0.146,"lo":1.3e16,"hi":5.25e16},
    {"p":"a","d":0.477,"lo":2.0e16,"hi":8.9e16}
  ]
},
"hconcat": [
  {
    "width": 279, "height": 329,
    "resolve": {"axis": {"x": "independent", "y": "independent"}},
    "layer": [
      {"data": {"name": "curves"}, "transform": [{"filter": "datum.p=='a' && datum.s!='n'"}],
       "mark": {"type": "line", "color": "#111", "strokeWidth": 2.4, "clip": true},
       "encoding": {
         "x": {"field": "d", "type": "quantitative", "scale": {"domain": [0, 1.2], "nice": false, "zero": false},
               "axis": {"orient": "bottom", "values": [0.1,0.2,0.3,0.4,0.5,0.6,0.7,0.8,0.9,1.0,1.1], "format": ".1f",
                        "labelExpr": "round(datum.value*10)%2==1 ? datum.label : ''",
                        "tickSize": {"condition": {"test": "round(datum.value*10)%2==1", "value": -6}, "value": -4},
                        "labelPadding": 9, "title": "depth (microns)", "titleFontSize": 12, "titlePadding": 4}},
         "y": {"field": "v", "type": "quantitative", "scale": {"type": "log", "domain": [1e15, 5.2e20], "nice": false},
               "axis": {"orient": "left",
                        "values": [1e15,2e15,3e15,4e15,5e15,6e15,7e15,8e15,9e15,1e16,2e16,3e16,4e16,5e16,6e16,7e16,8e16,9e16,1e17,2e17,3e17,4e17,5e17,6e17,7e17,8e17,9e17,1e18,2e18,3e18,4e18,5e18,6e18,7e18,8e18,9e18,1e19,2e19,3e19,4e19,5e19,6e19,7e19,8e19,9e19,1e20,2e20,3e20,4e20,5e20],
                        "labelExpr": "abs(log(datum.value)/LN10-round(log(datum.value)/LN10))<0.001 ? '10'+['¹⁵','¹⁶','¹⁷','¹⁸','¹⁹','²⁰'][round(log(datum.value)/LN10)-15] : ''",
                        "labelFont": "DejaVu Sans", "labelFontSize": 12,
                        "tickSize": {"condition": {"test": "abs(log(datum.value)/LN10-round(log(datum.value)/LN10))<0.001", "value": -7}, "value": -4},
                        "labelPadding": 6, "title": "concentration (cm⁻³)", "titlePadding": 9}},
         "detail": {"field": "s"}
       }},
      {"data": {"name": "curves"}, "transform": [{"filter": "datum.p=='a' && datum.s=='n'"}],
       "mark": {"type": "line", "color": "#111", "strokeWidth": 2.4, "strokeDash": [0.1, 4.6], "strokeCap": "round", "clip": true},
       "encoding": {
         "x": {"field": "d", "type": "quantitative", "axis": {"orient": "top", "values": [0.1,0.2,0.3,0.4,0.5,0.6,0.7,0.8,0.9,1.0,1.1], "labels": false, "title": null,
                        "tickSize": {"condition": {"test": "round(datum.value*10)%2==1", "value": -6}, "value": -4}}},
         "y": {"field": "v", "type": "quantitative", "axis": {"orient": "right", "labels": false, "title": null,
                        "values": [1e15,2e15,3e15,4e15,5e15,6e15,7e15,8e15,9e15,1e16,2e16,3e16,4e16,5e16,6e16,7e16,8e16,9e16,1e17,2e17,3e17,4e17,5e17,6e17,7e17,8e17,9e17,1e18,2e18,3e18,4e18,5e18,6e18,7e18,8e18,9e18,1e19,2e19,3e19,4e19,5e19,6e19,7e19,8e19,9e19,1e20,2e20,3e20,4e20,5e20],
                        "tickSize": {"condition": {"test": "abs(log(datum.value)/LN10-round(log(datum.value)/LN10))<0.001", "value": -7}, "value": -4}}}
       }},
      {"data": {"name": "arrows"}, "transform": [{"filter": "datum.p=='a'"}],
       "mark": {"type": "rule", "color": "#111", "strokeWidth": 2.2},
       "encoding": {"x": {"field": "d", "type": "quantitative", "axis": null}, "y": {"field": "lo", "type": "quantitative", "axis": null}, "y2": {"field": "hi"}}},
      {"data": {"name": "arrows"}, "transform": [{"filter": "datum.p=='a'"}],
       "mark": {"type": "point", "shape": "triangle-up", "filled": true, "color": "#111", "size": 55, "opacity": 1},
       "encoding": {"x": {"field": "d", "type": "quantitative", "axis": null}, "y": {"field": "hi", "type": "quantitative", "axis": null}}},
      {"data": {"name": "labels"}, "transform": [{"filter": "datum.p=='a' && datum.k=='curve'"}],
       "mark": {"type": "text", "fontSize": 13},
       "encoding": {"x": {"field": "d", "type": "quantitative", "axis": null}, "y": {"field": "v", "type": "quantitative", "axis": null}, "text": {"field": "t"}}},
      {"data": {"name": "labels"}, "transform": [{"filter": "datum.p=='a' && datum.k=='small'"}],
       "mark": {"type": "text", "fontSize": 10},
       "encoding": {"x": {"field": "d", "type": "quantitative", "axis": null}, "y": {"field": "v", "type": "quantitative", "axis": null}, "text": {"field": "t"}}},
      {"data": {"name": "labels"}, "transform": [{"filter": "datum.p=='a' && datum.k=='tag'"}],
       "mark": {"type": "text", "fontSize": 16},
       "encoding": {"x": {"field": "d", "type": "quantitative", "axis": null}, "y": {"field": "v", "type": "quantitative", "axis": null}, "text": {"field": "t"}}}
    ]
  },
  {
    "width": 279, "height": 329,
    "resolve": {"axis": {"x": "independent", "y": "independent"}},
    "layer": [
      {"data": {"name": "curves"}, "transform": [{"filter": "datum.p=='b' && datum.s!='n'"}],
       "mark": {"type": "line", "color": "#111", "strokeWidth": 2.1, "clip": true},
       "encoding": {
         "x": {"field": "d", "type": "quantitative", "scale": {"domain": [0, 1.2], "nice": false, "zero": false},
               "axis": {"orient": "bottom", "values": [0.1,0.2,0.3,0.4,0.5,0.6,0.7,0.8,0.9,1.0,1.1], "format": ".1f",
                        "labelExpr": "round(datum.value*10)%2==1 ? datum.label : ''",
                        "tickSize": {"condition": {"test": "round(datum.value*10)%2==1", "value": -6}, "value": -4},
                        "labelPadding": 9, "title": "depth (microns)", "titleFontSize": 12, "titlePadding": 4}},
         "y": {"field": "v", "type": "quantitative", "scale": {"type": "log", "domain": [1e15, 5.2e20], "nice": false},
               "axis": {"orient": "left", "labels": false, "title": null,
                        "values": [1e15,2e15,3e15,4e15,5e15,6e15,7e15,8e15,9e15,1e16,2e16,3e16,4e16,5e16,6e16,7e16,8e16,9e16,1e17,2e17,3e17,4e17,5e17,6e17,7e17,8e17,9e17,1e18,2e18,3e18,4e18,5e18,6e18,7e18,8e18,9e18,1e19,2e19,3e19,4e19,5e19,6e19,7e19,8e19,9e19,1e20,2e20,3e20,4e20,5e20],
                        "tickSize": {"condition": {"test": "abs(log(datum.value)/LN10-round(log(datum.value)/LN10))<0.001", "value": -7}, "value": -4}}},
         "detail": {"field": "s"}
       }},
      {"data": {"name": "curves"}, "transform": [{"filter": "datum.p=='b' && datum.s=='n'"}],
       "mark": {"type": "line", "color": "#111", "strokeWidth": 2.4, "strokeDash": [0.1, 4.6], "strokeCap": "round", "clip": true},
       "encoding": {
         "x": {"field": "d", "type": "quantitative", "axis": {"orient": "top", "values": [0.1,0.2,0.3,0.4,0.5,0.6,0.7,0.8,0.9,1.0,1.1], "labels": false, "title": null,
                        "tickSize": {"condition": {"test": "round(datum.value*10)%2==1", "value": -6}, "value": -4}}},
         "y": {"field": "v", "type": "quantitative", "axis": {"orient": "right", "labels": false, "title": null,
                        "values": [1e15,2e15,3e15,4e15,5e15,6e15,7e15,8e15,9e15,1e16,2e16,3e16,4e16,5e16,6e16,7e16,8e16,9e16,1e17,2e17,3e17,4e17,5e17,6e17,7e17,8e17,9e17,1e18,2e18,3e18,4e18,5e18,6e18,7e18,8e18,9e18,1e19,2e19,3e19,4e19,5e19,6e19,7e19,8e19,9e19,1e20,2e20,3e20,4e20,5e20],
                        "tickSize": {"condition": {"test": "abs(log(datum.value)/LN10-round(log(datum.value)/LN10))<0.001", "value": -7}, "value": -4}}}
       }},
      {"data": {"name": "labels"}, "transform": [{"filter": "datum.p=='b' && datum.k=='curve'"}],
       "mark": {"type": "text", "fontSize": 12},
       "encoding": {"x": {"field": "d", "type": "quantitative", "axis": null}, "y": {"field": "v", "type": "quantitative", "axis": null}, "text": {"field": "t"}}},
      {"data": {"name": "labels"}, "transform": [{"filter": "datum.p=='b' && datum.k=='small'"}],
       "mark": {"type": "text", "fontSize": 11},
       "encoding": {"x": {"field": "d", "type": "quantitative", "axis": null}, "y": {"field": "v", "type": "quantitative", "axis": null}, "text": {"field": "t"}}},
      {"data": {"name": "labels"}, "transform": [{"filter": "datum.p=='b' && datum.k=='tag'"}],
       "mark": {"type": "text", "fontSize": 16},
       "encoding": {"x": {"field": "d", "type": "quantitative", "axis": null}, "y": {"field": "v", "type": "quantitative", "axis": null}, "text": {"field": "t"}}}
    ]
  },
  {
    "width": 279, "height": 329,
    "resolve": {"axis": {"x": "independent", "y": "independent"}},
    "layer": [
      {"data": {"name": "curves"}, "transform": [{"filter": "datum.p=='c' && datum.s!='n'"}],
       "mark": {"type": "line", "color": "#111", "strokeWidth": 2.1, "clip": true},
       "encoding": {
         "x": {"field": "d", "type": "quantitative", "scale": {"domain": [0, 1.2], "nice": false, "zero": false},
               "axis": {"orient": "bottom", "values": [0.1,0.2,0.3,0.4,0.5,0.6,0.7,0.8,0.9,1.0,1.1], "format": ".1f",
                        "labelExpr": "round(datum.value*10)%2==1 ? datum.label : ''",
                        "tickSize": {"condition": {"test": "round(datum.value*10)%2==1", "value": -6}, "value": -4},
                        "labelPadding": 9, "title": "depth (microns)", "titleFontSize": 12, "titlePadding": 4}},
         "y": {"field": "v", "type": "quantitative", "scale": {"type": "log", "domain": [1e15, 5.2e20], "nice": false},
               "axis": {"orient": "left", "labels": false, "title": null,
                        "values": [1e15,2e15,3e15,4e15,5e15,6e15,7e15,8e15,9e15,1e16,2e16,3e16,4e16,5e16,6e16,7e16,8e16,9e16,1e17,2e17,3e17,4e17,5e17,6e17,7e17,8e17,9e17,1e18,2e18,3e18,4e18,5e18,6e18,7e18,8e18,9e18,1e19,2e19,3e19,4e19,5e19,6e19,7e19,8e19,9e19,1e20,2e20,3e20,4e20,5e20],
                        "tickSize": {"condition": {"test": "abs(log(datum.value)/LN10-round(log(datum.value)/LN10))<0.001", "value": -7}, "value": -4}}},
         "detail": {"field": "s"}
       }},
      {"data": {"name": "curves"}, "transform": [{"filter": "datum.p=='c' && datum.s=='n'"}],
       "mark": {"type": "line", "color": "#111", "strokeWidth": 2.4, "strokeDash": [0.1, 4.6], "strokeCap": "round", "clip": true},
       "encoding": {
         "x": {"field": "d", "type": "quantitative", "axis": {"orient": "top", "values": [0.1,0.2,0.3,0.4,0.5,0.6,0.7,0.8,0.9,1.0,1.1], "labels": false, "title": null,
                        "tickSize": {"condition": {"test": "round(datum.value*10)%2==1", "value": -6}, "value": -4}}},
         "y": {"field": "v", "type": "quantitative", "axis": {"orient": "right", "labels": false, "title": null,
                        "values": [1e15,2e15,3e15,4e15,5e15,6e15,7e15,8e15,9e15,1e16,2e16,3e16,4e16,5e16,6e16,7e16,8e16,9e16,1e17,2e17,3e17,4e17,5e17,6e17,7e17,8e17,9e17,1e18,2e18,3e18,4e18,5e18,6e18,7e18,8e18,9e18,1e19,2e19,3e19,4e19,5e19,6e19,7e19,8e19,9e19,1e20,2e20,3e20,4e20,5e20],
                        "tickSize": {"condition": {"test": "abs(log(datum.value)/LN10-round(log(datum.value)/LN10))<0.001", "value": -7}, "value": -4}}}
       }},
      {"data": {"name": "labels"}, "transform": [{"filter": "datum.p=='c' && datum.k=='curve'"}],
       "mark": {"type": "text", "fontSize": 12},
       "encoding": {"x": {"field": "d", "type": "quantitative", "axis": null}, "y": {"field": "v", "type": "quantitative", "axis": null}, "text": {"field": "t"}}},
      {"data": {"name": "labels"}, "transform": [{"filter": "datum.p=='c' && datum.k=='tag'"}],
       "mark": {"type": "text", "fontSize": 16},
       "encoding": {"x": {"field": "d", "type": "quantitative", "axis": null}, "y": {"field": "v", "type": "quantitative", "axis": null}, "text": {"field": "t"}}}
    ]
  }
]
}
